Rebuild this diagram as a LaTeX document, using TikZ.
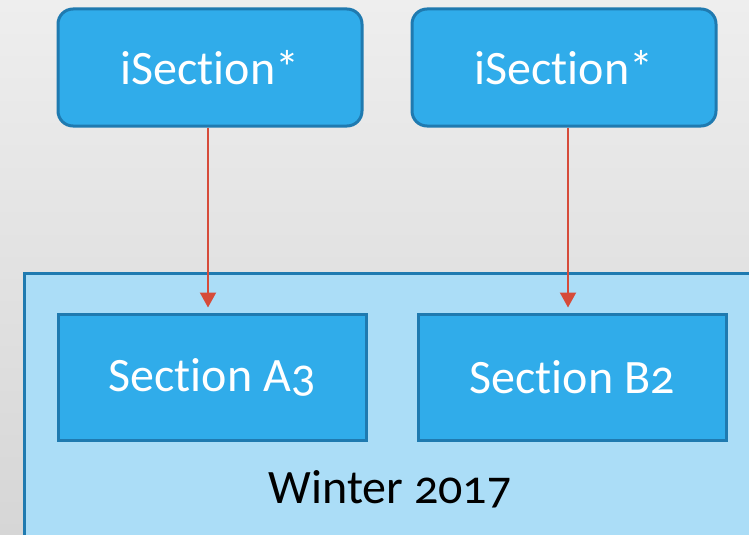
\documentclass[tikz,border=0pt]{standalone}
\usepackage{fontspec}
\setmainfont{Carlito}[Numbers=OldStyle, Ligatures=NoCommon]
\usetikzlibrary{arrows.meta}
\definecolor{boxfill}{HTML}{30ACEA}
\definecolor{boxline}{HTML}{1F7AB0}
\definecolor{panel}{HTML}{ABDDF7}
\definecolor{arrowred}{HTML}{D64B3A}
\definecolor{bgtop}{HTML}{EEEEEE}
\definecolor{bgbot}{HTML}{D6D6D6}
\begin{document}
\begin{tikzpicture}[x=1pt,y=-1pt,
  bigtext/.style={font=\fontsize{48}{58}\selectfont},
  topbox/.style={bigtext, draw=boxline, fill=boxfill, line width=3pt, rounded corners=15pt,
    minimum width=304pt, minimum height=117pt, text=white, inner sep=0pt},
  secbox/.style={bigtext, draw=boxline, fill=boxfill, line width=3pt,
    minimum width=308pt, minimum height=126pt, text=white, inner sep=0pt},
  panelbox/.style={draw=boxline, fill=panel, line width=3pt},
  link/.style={draw=arrowred, line width=2pt, -{Triangle[length=15pt,width=16pt]}, shorten >=5pt}
]
\useasboundingbox (0,0) rectangle (749,535);
\clip (0,0) rectangle (749,535);
\shade[top color=bgtop, bottom color=bgbot] (0,0) rectangle (749,535);
\path[panelbox] (24,273) rectangle (770,560);
\node[topbox] (t1) at (210,67.5) {iSection*};
\node[topbox] (t2) at (564,67.5) {iSection*};
\node[secbox] (s1) at (212,377) {Section A3};
\node[secbox] (s2) at (572,377) {Section B2};
\node[bigtext, text=black, inner sep=0pt] (w) at (390,489) {Winter 2017};
\draw[link] ([xshift=-2pt]t1.south) -- ([xshift=-4pt]s1.north);
\draw[link] ([xshift=4pt]t2.south) -- ([xshift=-4pt]s2.north);
\end{tikzpicture}
\end{document}
